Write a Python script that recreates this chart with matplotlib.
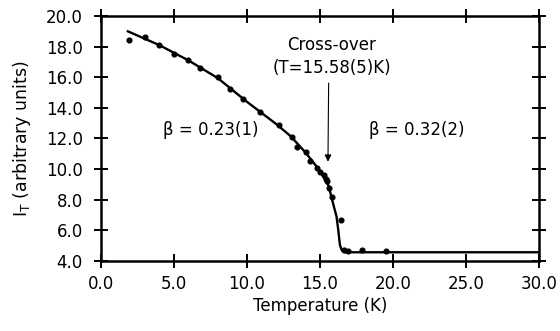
import matplotlib
matplotlib.use("Agg")
import matplotlib.pyplot as plt

plt.rcParams['font.family'] = ['DejaVu Sans']

# measured points
temp = [1.9, 3.0, 4.0, 5.0, 6.0, 6.8, 8.0, 8.85, 9.75, 10.9, 12.2, 13.1, 13.4,
        14.05, 14.3, 14.8, 15.0, 15.25, 15.45, 15.5, 15.6, 15.8, 16.45, 16.65,
        16.9, 17.85, 19.5]
intensity = [18.4, 18.65, 18.1, 17.5, 17.1, 16.6, 16.0, 15.25, 14.55, 13.75, 12.9,
             12.1, 11.45, 11.1, 10.5, 10.1, 9.8, 9.6, 9.35, 9.2, 8.75, 8.2, 6.7,
             4.75, 4.65, 4.75, 4.68]

# fitted curve
fit_t = [1.85, 4.0, 6.0, 8.0, 10.0, 12.0, 13.0, 14.0, 15.0, 15.6, 15.9, 16.14,
         16.26, 16.37, 16.5, 16.7, 30.0]
fit_i = [19.0, 18.1, 17.1, 15.95, 14.4, 12.95, 12.15, 11.1, 9.9, 8.9, 7.76, 6.9,
         6.0, 5.05, 4.7, 4.57, 4.57]

xticks = [0, 5, 10, 15, 20, 25, 30]
yticks = [4, 6, 8, 10, 12, 14, 16, 18, 20]

fig = plt.figure(figsize=(5.6, 3.31), dpi=100)
ax = fig.add_axes([0.180, 0.2115, 0.7825, 0.7402])

ax.plot(fit_t, fit_i, color='black', lw=1.7)
ax.plot(temp, intensity, 'o', color='black', ms=3.4)

ax.set_xlim(0, 30)
ax.set_ylim(4, 20)
ax.set_xticks(xticks)
ax.set_yticks(yticks)
ax.set_xticklabels([f"{v:.1f}" for v in xticks])
ax.set_yticklabels([f"{v:.1f}" for v in yticks])
ax.tick_params(direction='inout', length=10, width=1.4, labelsize=12,
               top=True, right=True)
ax.tick_params(axis='y', pad=8)
ax.tick_params(axis='x', pad=5)
for s in ax.spines.values():
    s.set_linewidth(1.8)

ax.set_xlabel("Temperature (K)", fontsize=12, labelpad=3)
ax.set_ylabel("I$_\\mathregular{T}$ (arbitrary units)", fontsize=12.5, labelpad=9)

ax.text(15.8, 18.1, "Cross-over", ha='center', va='center', fontsize=12)
ax.text(15.8, 16.6, "(T=15.58(5)K)", ha='center', va='center', fontsize=12)
ax.annotate("", xy=(15.55, 10.3), xytext=(15.6, 15.8),
            arrowprops=dict(arrowstyle='-|>', color='black', lw=0.8,
                            mutation_scale=10))
ax.text(7.5, 12.55, "β = 0.23(1)", ha='center', va='center', fontsize=12)
ax.text(21.6, 12.55, "β = 0.32(2)", ha='center', va='center', fontsize=12)

fig.savefig("out.png", dpi=100)
